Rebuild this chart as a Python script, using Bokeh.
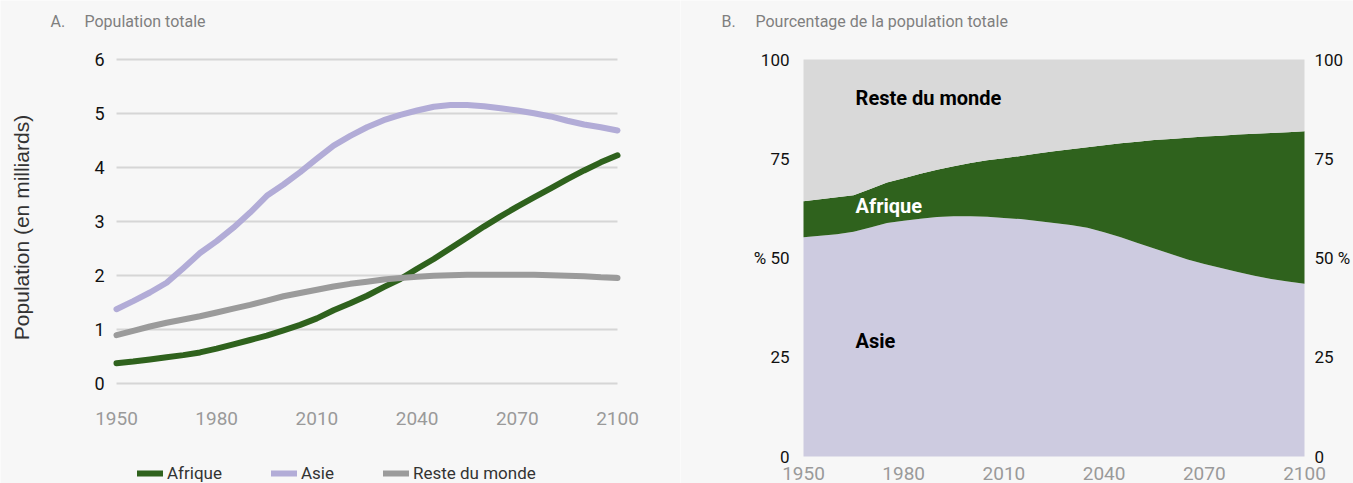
import math
from bokeh.plotting import figure
from bokeh.layouts import row
from bokeh.models import (ColumnDataSource, Legend, LegendItem, Label, LinearAxis,
                          FixedTicker, Grid)
from bokeh.embed import file_html
from bokeh.resources import INLINE

# ---------------- data ----------------
years = [1950, 1955, 1960, 1965, 1970, 1975, 1980, 1985, 1990, 1995, 2000,
         2005, 2010, 2015, 2020, 2025, 2030, 2035, 2040, 2045, 2050, 2055,
         2060, 2065, 2070, 2075, 2080, 2085, 2090, 2095, 2100]

# A. Population totale (milliards)
afrique = [0.37, 0.40, 0.44, 0.48, 0.52, 0.57, 0.64, 0.72, 0.80, 0.88, 0.98,
           1.08, 1.20, 1.35, 1.48, 1.62, 1.78, 1.93, 2.12, 2.30, 2.50, 2.70,
           2.90, 3.09, 3.27, 3.44, 3.61, 3.78, 3.94, 4.09, 4.22]
asie = [1.37, 1.52, 1.68, 1.86, 2.13, 2.41, 2.63, 2.88, 3.16, 3.47, 3.68,
        3.91, 4.16, 4.40, 4.58, 4.74, 4.87, 4.97, 5.05, 5.12, 5.15, 5.15,
        5.13, 5.09, 5.05, 5.00, 4.94, 4.86, 4.79, 4.74, 4.68]
reste = [0.89, 0.97, 1.05, 1.12, 1.18, 1.24, 1.31, 1.38, 1.45, 1.53, 1.61,
         1.67, 1.73, 1.79, 1.84, 1.88, 1.92, 1.95, 1.97, 1.99, 2.00, 2.01,
         2.01, 2.01, 2.01, 2.01, 2.00, 1.99, 1.98, 1.96, 1.95]

# B. Pourcentage de la population totale
asie_pct = [55.2, 55.6, 56.0, 56.6, 57.7, 58.8, 59.4, 59.9, 60.3, 60.5, 60.5,
            60.4, 60.1, 59.8, 59.3, 58.8, 58.3, 57.6, 56.5, 55.2, 53.8, 52.4,
            51.0, 49.6, 48.5, 47.5, 46.5, 45.5, 44.7, 44.1, 43.5]
afrique_pct = [9.1, 9.2, 9.3, 9.2, 9.7, 10.2, 10.7, 11.3, 11.9, 12.6, 13.4,
               14.2, 15.0, 15.9, 17.0, 18.1, 19.1, 20.3, 21.9, 23.7, 25.5, 27.3,
               29.0, 30.7, 32.1, 33.3, 34.6, 35.8, 36.8, 37.6, 38.4]
reste_pct = [35.7, 35.2, 34.7, 34.2, 32.6, 31.0, 29.9, 28.8, 27.8, 26.9, 26.1,
             25.4, 24.9, 24.3, 23.7, 23.1, 22.6, 22.1, 21.6, 21.1, 20.7, 20.3,
             20.0, 19.7, 19.4, 19.2, 18.9, 18.7, 18.5, 18.3, 18.1]

x_ticks = [1950, 1980, 2010, 2040, 2070, 2100]
y_ticks_a = [0, 1, 2, 3, 4, 5, 6]
y_ticks_b = [0, 25, 50, 75, 100]
series_names = ["Afrique", "Asie", "Reste du monde"]

# ---------------- layout / styles ----------------
FONT = "Roboto"
BG = "#f7f7f7"
GREEN = "#2f621d"
ASIE_LINE = "#b2acd7"
RESTE_LINE = "#9b9b9b"
ASIE_AREA = "#cdcbe0"
RESTE_AREA = "#d9d9d9"
GRID = "#d6d6d6"
TITLE_C = "#7f7f7f"
H = 483
W_A, W_B = 680, 673

X0, X1 = 1950, 2100


def span(lo_val, hi_val, lo_px, hi_px, size_px):
    """Range so that lo_val sits at lo_px and hi_val at hi_px (pixels from the
    low end of a frame of size_px)."""
    k = (hi_val - lo_val) / (hi_px - lo_px)
    return lo_val - lo_px * k, lo_val + (size_px - lo_px) * k


# plot areas in pixels (x from figure left, y from figure bottom)
xa = span(X0, X1, 116, 617, W_A)
ya = span(0, 6, H - 382.7, H - 58.7, H)
xb = span(X0, X1, 123, 624, W_B)
yb = span(0, 100, H - 456, H - 59, H)

src = ColumnDataSource(dict(years=years, afrique=afrique, asie=asie, reste=reste,
                            asie_pct=asie_pct, afrique_pct=afrique_pct,
                            reste_pct=reste_pct))


def base_fig(w, xr, yr):
    p = figure(width=w, height=H, x_range=xr, y_range=yr,
               output_backend="svg", toolbar_location=None,
               x_axis_location=None, y_axis_location=None,
               min_border=0, min_border_left=0, min_border_right=0,
               min_border_top=0, min_border_bottom=0,
               background_fill_color=BG, border_fill_color=BG,
               outline_line_color=None)
    for g in p.grid:
        g.visible = False
    return p


def style_axis(ax, size, color, standoff):
    ax.axis_line_color = None
    ax.major_tick_line_color = None
    ax.minor_tick_line_color = None
    ax.major_tick_out = 0
    ax.major_tick_in = 0
    ax.minor_tick_out = 0
    ax.minor_tick_in = 0
    ax.major_label_text_font = FONT
    ax.major_label_text_font_size = size
    ax.major_label_text_color = color
    ax.major_label_standoff = standoff


# ---------------- chart A ----------------
p1 = base_fig(W_A, xa, ya)

grid_a = Grid(dimension=1, ticker=FixedTicker(ticks=y_ticks_a),
              grid_line_color=GRID, grid_line_width=2)
try:
    grid_a.cross_bounds = (X0, X1)
    p1.add_layout(grid_a)
except Exception:
    p1.segment(x0=X0, x1=X1, y0=y_ticks_a, y1=y_ticks_a, line_color=GRID,
               line_width=2)

xax_a = LinearAxis(ticker=FixedTicker(ticks=x_ticks), fixed_location=0)
style_axis(xax_a, "19px", "#9a9a9a", 29)
p1.add_layout(xax_a, "below")
yax_a = LinearAxis(ticker=FixedTicker(ticks=y_ticks_a), fixed_location=X0)
style_axis(yax_a, "18px", "#111111", 12)
p1.add_layout(yax_a, "left")

r_af = p1.line("years", "afrique", source=src, line_width=6, line_color=GREEN,
               line_cap="round", line_join="round")
r_as = p1.line("years", "asie", source=src, line_width=6, line_color=ASIE_LINE,
               line_cap="round", line_join="round")
r_re = p1.line("years", "reste", source=src, line_width=6, line_color=RESTE_LINE,
               line_cap="round", line_join="round")

legend = Legend(items=[LegendItem(label=series_names[0], renderers=[r_af]),
                       LegendItem(label=series_names[1], renderers=[r_as]),
                       LegendItem(label=series_names[2], renderers=[r_re])],
                orientation="horizontal", location=(137, 0),
                glyph_width=26, glyph_height=20, label_standoff=4, spacing=49,
                padding=0, margin=0, border_line_color=None,
                background_fill_alpha=0,
                label_text_font=FONT, label_text_font_size="17px",
                label_text_color="#333333")
p1.add_layout(legend)

p1.add_layout(Label(x=20.5, y=H - 227, x_units="screen", y_units="screen",
                    text="Population (en milliards)", angle=math.pi / 2,
                    text_font="Liberation Sans", text_font_size="21px",
                    text_color="#333333", text_align="center",
                    text_baseline="middle"))
p1.add_layout(Label(x=50, y=H - 21, x_units="screen", y_units="screen", text="A.",
                    text_font=FONT, text_font_size="16px", text_color=TITLE_C,
                    text_baseline="middle"))
p1.add_layout(Label(x=84, y=H - 21, x_units="screen", y_units="screen",
                    text="Population totale", text_font=FONT,
                    text_font_size="16px", text_color=TITLE_C,
                    text_baseline="middle"))

# ---------------- chart B ----------------
p2 = base_fig(W_B, xb, yb)
p2.varea_stack(["asie_pct", "afrique_pct", "reste_pct"], x="years", source=src,
               color=[ASIE_AREA, GREEN, RESTE_AREA])

xax_b = LinearAxis(ticker=FixedTicker(ticks=x_ticks), fixed_location=0)
style_axis(xax_b, "19px", "#9a9a9a", 10)
p2.add_layout(xax_b, "below")
yax_b = LinearAxis(ticker=FixedTicker(ticks=y_ticks_b), fixed_location=X0,
                   major_label_overrides={50: "% 50"})
style_axis(yax_b, "17px", "#111111", 14)
p2.add_layout(yax_b, "left")
yax_b2 = LinearAxis(ticker=FixedTicker(ticks=y_ticks_b), fixed_location=X1,
                    major_label_overrides={50: "50 %"})
style_axis(yax_b2, "17px", "#111111", 10)
p2.add_layout(yax_b2, "right")

label_style = dict(text_font=FONT, text_font_size="20px", text_font_style="bold",
                   text_baseline="middle")
p2.add_layout(Label(x=1965.6, y=90.4, text="Reste du monde", text_color="#000000",
                    **label_style))
p2.add_layout(Label(x=1965.6, y=63.2, text="Afrique", text_color="#ffffff",
                    **label_style))
p2.add_layout(Label(x=1965.6, y=29.0, text="Asie", text_color="#000000",
                    **label_style))

p2.add_layout(Label(x=41, y=H - 21, x_units="screen", y_units="screen", text="B.",
                    text_font=FONT, text_font_size="16px", text_color=TITLE_C,
                    text_baseline="middle"))
p2.add_layout(Label(x=75, y=H - 21, x_units="screen", y_units="screen",
                    text="Pourcentage de la population totale", text_font=FONT,
                    text_font_size="16px", text_color=TITLE_C,
                    text_baseline="middle"))

layout = row(p1, p2, spacing=0)
open("out.html", "w").write(file_html(layout, INLINE))
